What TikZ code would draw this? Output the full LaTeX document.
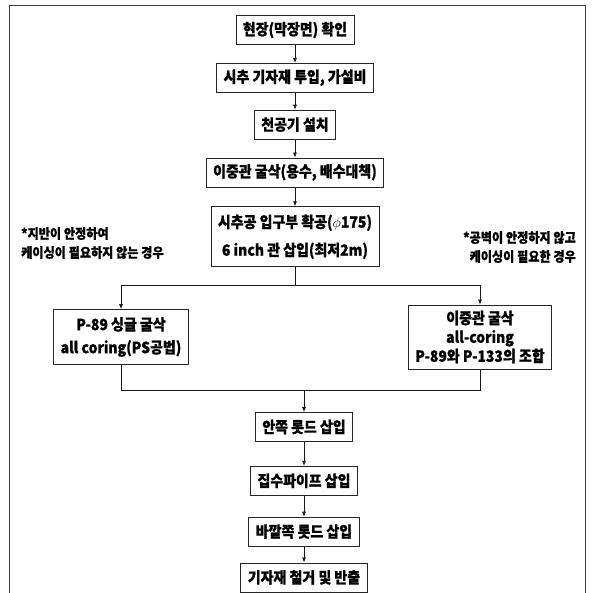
\documentclass[tikz,border=0pt]{standalone}
\usepackage{fontspec}
\setmainfont{Noto Sans CJK KR}[FakeStretch=0.9,BoldFeatures={FakeBold=0.8}]
\usepackage{tikz}
\usetikzlibrary{arrows.meta,positioning,calc}

\begin{document}
\begin{tikzpicture}[
  x=1pt,y=1pt,
  box/.style={draw=black!85,line width=0.8pt,align=center,minimum height=29pt,
              inner xsep=7pt,inner ysep=2pt,font=\bfseries\fontsize{15.5}{18}\selectfont},
  note/.style={inner sep=0pt,font=\bfseries\fontsize{13.5}{19}\selectfont},
  ar/.style={-{Latex[length=5pt,width=4pt]},line width=0.7pt,draw=black!90},
  ln/.style={line width=0.7pt,draw=black!90}
]
\useasboundingbox (0,0) rectangle (593,-592);
\clip (0,0) rectangle (593,-592);
% outer frame
\draw[line width=0.8pt,draw=black!75] (9,-5) rectangle (585,-620);

% main chain, top part
\node[box] (site) at (295,-30) {현장(막장면) 확인};
\node[box, below=18pt of site] (equip) {시추 기자재 투입, 가설비};
\node[box, below=17pt of equip] (drill) {천공기 설치};
\node[box, below=18pt of drill] (dbl) {이중관 굴삭(용수, 배수대책)};
\node[box, below=19pt of dbl, minimum height=60pt,
      font=\bfseries\fontsize{15.5}{28}\selectfont] (widen)
      {시추공 입구부 확공($\phi$175)\\6 inch 관 삽입(최저2m)};

% two cases
\coordinate (split) at (295,-285);
\node[box, minimum height=55pt, font=\bfseries\fontsize{15.5}{23}\selectfont] (single) at (121,-337)
      {P-89 싱글 굴삭\\all coring(PS공법)};
\node[box, minimum height=64pt, font=\bfseries\fontsize{15.5}{19}\selectfont] (combo) at (480,-337)
      {이중관 굴삭\\all-coring\\P-89와 P-133의 조합};
\node[note, align=left, anchor=north west] (stable) at (21,-227)
      {*지반이 안정하여\\케이싱이 필요하지 않는 경우};
\node[note, align=right, anchor=north east] (unstable) at (576,-231)
      {*공벽이 안정하지 않고\\케이싱이 필요한 경우};

% main chain, bottom part
\coordinate (join) at (304,-390);
\node[box] (inner) at (304,-427) {안쪽 롯드 삽입};
\node[box, below=24pt of inner] (pipe) {집수파이프 삽입};
\node[box, below=21pt of pipe] (outer) {바깥쪽 롯드 삽입};
\node[box, below=16pt of outer] (remove) {기자재 철거 및 반출};

\draw[ar] (site) -- (equip);
\draw[ar] (equip) -- (drill);
\draw[ar] (drill) -- (dbl);
\draw[ar] (dbl) -- (widen);
\draw[ln] (widen) -- (split);
\draw[ar] (split) -| (single);
\draw[ar] (split) -| (combo);
\draw[ln] (single) |- (join);
\draw[ln] (combo) |- (join);
\draw[ar] (join) -- (inner);
\draw[ar] (inner) -- (pipe);
\draw[ar] (pipe) -- (outer);
\draw[ar] (outer) -- (remove);
\end{tikzpicture}
\end{document}
